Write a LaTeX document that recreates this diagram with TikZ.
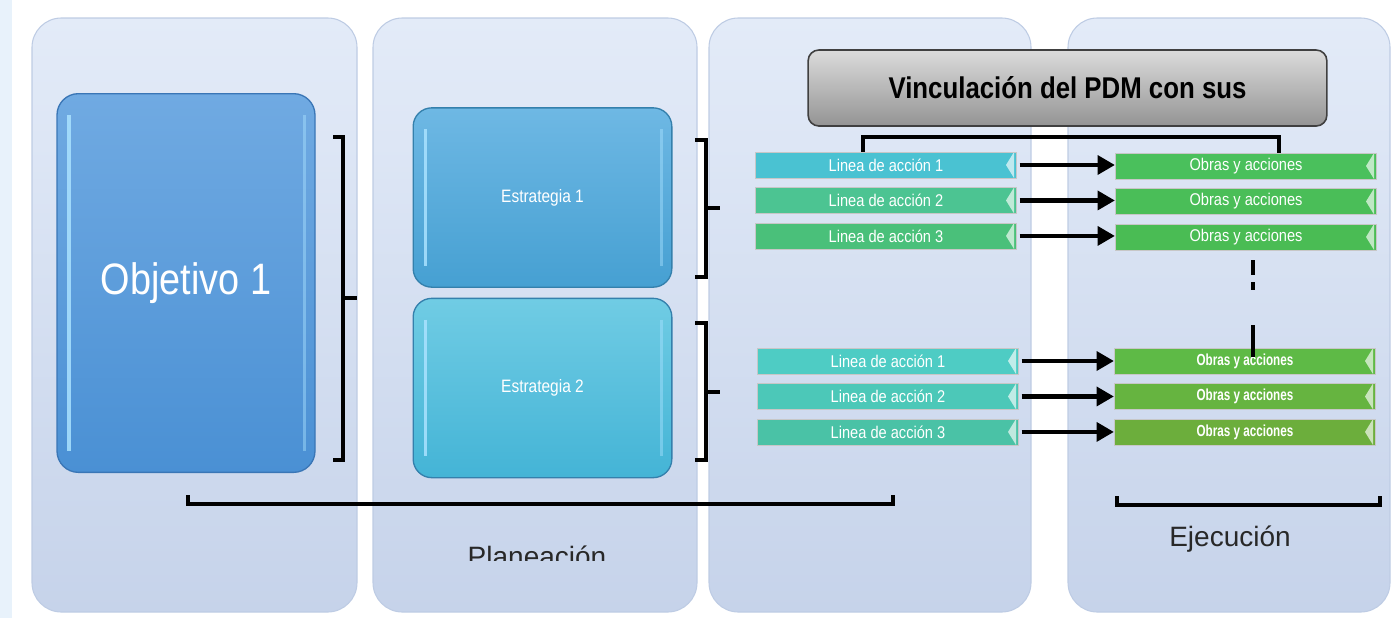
\documentclass[tikz,border=0pt]{standalone}
\usepackage{fontspec}
\setmainfont{Liberation Sans}
\newfontfamily\narrowsf[FakeStretch=0.86]{Liberation Sans}
\newfontfamily\condsf[FakeStretch=0.73]{Liberation Sans}
\usepackage{tikz}
\usetikzlibrary{positioning,arrows.meta}

\definecolor{colTop}{RGB}{227,235,248}
\definecolor{colBot}{RGB}{198,211,234}
\definecolor{colEdge}{RGB}{190,204,228}
\definecolor{stripBg}{RGB}{232,242,251}
\definecolor{objTop}{RGB}{112,170,226}
\definecolor{objBot}{RGB}{74,144,212}
\definecolor{objEdge}{RGB}{58,118,182}
\definecolor{strOneTop}{RGB}{110,184,228}
\definecolor{strOneBot}{RGB}{70,160,210}
\definecolor{strTwoTop}{RGB}{112,204,228}
\definecolor{strTwoBot}{RGB}{68,180,214}
\definecolor{strEdge}{RGB}{52,128,172}
\definecolor{hilite}{RGB}{170,226,255}
\definecolor{linA}{RGB}{74,194,210}
\definecolor{linB}{RGB}{76,196,146}
\definecolor{linC}{RGB}{74,192,122}
\definecolor{linD}{RGB}{78,204,196}
\definecolor{linE}{RGB}{76,200,184}
\definecolor{linF}{RGB}{74,194,166}
\definecolor{obrA}{RGB}{74,192,92}
\definecolor{obrB}{RGB}{74,190,88}
\definecolor{obrC}{RGB}{74,188,84}
\definecolor{obrD}{RGB}{94,186,70}
\definecolor{obrE}{RGB}{102,180,64}
\definecolor{obrF}{RGB}{108,174,60}
\definecolor{phaseText}{RGB}{40,40,40}

\tikzset{
  colbg/.style={rounded corners=22pt, draw=colEdge, line width=0.8pt,
    top color=colTop, bottom color=colBot},
  objbox/.style={rounded corners=16pt, draw=objEdge, line width=1pt,
    top color=objTop, bottom color=objBot, text=white,
    minimum width=193.5pt, minimum height=284pt,
    font=\narrowsf\fontsize{33}{38}\selectfont,
    path picture={
      \draw[hilite, line width=2.5pt, opacity=.85, shorten <=16pt, shorten >=16pt]
        ([xshift=9pt]path picture bounding box.north west) -- ([xshift=9pt]path picture bounding box.south west);
      \draw[hilite, line width=2pt, opacity=.45, shorten <=16pt, shorten >=16pt]
        ([xshift=-8pt]path picture bounding box.north east) -- ([xshift=-8pt]path picture bounding box.south east);}},
  strbox/.style={objbox, draw=strEdge, minimum width=194pt, minimum height=134.5pt,
    rounded corners=14pt, font=\narrowsf\fontsize{13.5}{16}\selectfont},
  titlebox/.style={rounded corners=8pt, draw=black!75, line width=1.2pt,
    top color=black!14, middle color=black!4, bottom color=black!42,
    minimum width=389pt, minimum height=57pt,
    font=\narrowsf\bfseries\fontsize{22.5}{26}\selectfont},
  linebox/.style={draw=black!22, line width=0.6pt, text=white, inner sep=0pt,
    minimum width=196pt, minimum height=19.5pt,
    font=\narrowsf\fontsize{12.75}{14}\selectfont,
    path picture={
      \fill[white, opacity=.65] ([xshift=-2pt]path picture bounding box.north east)
        -- ([xshift=-8pt]path picture bounding box.east)
        -- ([xshift=-2pt]path picture bounding box.south east) -- cycle;}},
  boldbox/.style={linebox, font=\condsf\bfseries\fontsize{12}{14}\selectfont},
  conn/.style={line width=3.6pt, shorten <=2pt, -{Triangle[length=13pt,width=14pt]}},
  brk/.style={line width=3pt},
  dashbar/.style={line width=3.6pt, dash pattern=on 11.25pt off 5.25pt on 6pt off 26.25pt on 24pt},
  phase/.style={text=phaseText, font=\fontsize{21}{25}\selectfont, inner sep=0pt}
}

\begin{document}
\begin{tikzpicture}[x=0.75pt,y=0.75pt,yscale=-1,xscale=1]
\useasboundingbox (0,0) rectangle (1395,618);

%Shape: left strip
\fill[stripBg] (0,0) rectangle (12,618);

%Shape: the four columns
\foreach \xa/\xb in {32/357,373/697,709/1031,1068/1390}
  \draw[colbg] (\xa,18) rectangle (\xb,612);

% Objetivo and strategies
\node[objbox] (obj) at (186,283) {Objetivo 1};
\node[strbox, top color=strOneTop, bottom color=strOneBot] (est1) at (542.5,197.5) {Estrategia 1};
\node[strbox, top color=strTwoTop, bottom color=strTwoBot] (est2) at (542.5,388) {Estrategia 2};

% Title box
\node[titlebox] (vinc) at (1067.5,88) {Vinculación del PDM con sus};

% Lines of action, first strategy
\node[linebox, fill=linA] (la1) at (886,165) {Linea de acción 1};
\node[linebox, fill=linB, below=6.5pt of la1] (la2) {Linea de acción 2};
\node[linebox, fill=linC, below=6.5pt of la2] (la3) {Linea de acción 3};

% Lines of action, second strategy
\node[linebox, fill=linD] (lb1) at (888,361) {Linea de acción 1};
\node[linebox, fill=linE, below=6.5pt of lb1] (lb2) {Linea de acción 2};
\node[linebox, fill=linF, below=6.5pt of lb2] (lb3) {Linea de acción 3};

% Works and actions
\node[linebox, fill=obrA] (oa1) at (1246,166) {Obras y acciones};
\node[linebox, fill=obrB, below=6.5pt of oa1] (oa2) {Obras y acciones};
\node[linebox, fill=obrC, below=6.5pt of oa2] (oa3) {Obras y acciones};
\node[boldbox, fill=obrD] (ob1) at (1245,361) {Obras y acciones};
\node[boldbox, fill=obrE, below=6.5pt of ob1] (ob2) {Obras y acciones};
\node[boldbox, fill=obrF, below=6.5pt of ob2] (ob3) {Obras y acciones};

% Arrows
\foreach \a/\b in {la1/oa1,la2/oa2,la3/oa3,lb1/ob1,lb2/ob2,lb3/ob3}
  \draw[conn] (\a.east) -- (\a.east -| \b.west);

% Connector under the title
\coordinate (vl) at (863,137);
\coordinate (vr) at (1279,137);
\draw[brk] (la1.north -| vl) -- (vl) -- (vr) -- (oa1.north -| vr);

% Dashed continuation
\coordinate (dtop) at (1253,260);
\coordinate (dbot) at (1253,357);
\draw[dashbar] (dtop) -- (dbot);

% Brackets
\draw[brk] (333,137) -- (343,137) -- (343,460) -- (333,460);
\draw[brk] (343,298) -- (357,298);
\draw[brk] (695,140) -- (706,140) -- (706,277) -- (695,277);
\draw[brk] (706,208) -- (720,208);
\draw[brk] (695,323) -- (706,323) -- (706,460) -- (695,460);
\draw[brk] (706,392) -- (720,392);
\draw[brk] (188,495) -- (188,504) -- (893,504) -- (893,495);
\draw[brk] (1117,496) -- (1117,505) -- (1380,505) -- (1380,496);

% Text Node
\begin{scope}
\clip (373,530) rectangle (697,560);
\node[phase, anchor=base] (plan) at (537,566) {Planeación};
\end{scope}
% Text Node
\node[phase, anchor=base] (ejec) at (1230,546) {Ejecución};

\end{tikzpicture}
\end{document}
